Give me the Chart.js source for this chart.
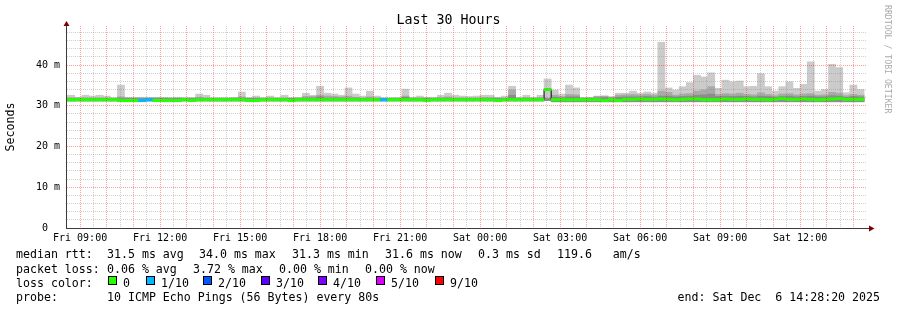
<!DOCTYPE html>
<html lang="en">
<head>
  <meta charset="UTF-8">
  <title>Last 30 Hours</title>
  <script src="https://cdn.jsdelivr.net/npm/chart.js@4"></script>
  <style>
    body { margin: 0; background: #fff; }
    #wrap {
      position: relative;
      width: 897px;
      height: 310px;
      font-family: "DejaVu Sans Mono", monospace;
      color: #000;
    }
    #chart { position: absolute; left: 0; top: 0; }
    #title {
      position: absolute; left: 0; top: 12px; width: 897px;
      text-align: center; font-size: 13.3px; line-height: 16px;
    }
    #credit {
      position: absolute; left: 883px; top: 5px;
      writing-mode: vertical-rl; font-size: 8.2px; line-height: 10px; color: #aaa;
    }
    .t { position: absolute; white-space: pre; font-size: 11.6px; line-height: 14px; }
    .box { position: absolute; top: 276px; width: 7px; height: 7px; border: 1px solid #000; }
  </style>
</head>
<body>
<div id="wrap">
  <canvas id="chart" width="897" height="310"></canvas>
  <div id="title">Last 30 Hours</div>
  <div id="credit">RRDTOOL / TOBI OETIKER</div>

  <div class="t" style="left:16px;top:247px">median rtt:</div>
  <div class="t" style="left:107px;top:247px">31.5 ms avg</div>
  <div class="t" style="left:199px;top:247px">34.0 ms max</div>
  <div class="t" style="left:292px;top:247px">31.3 ms min</div>
  <div class="t" style="left:385px;top:247px">31.6 ms now</div>
  <div class="t" style="left:478px;top:247px">0.3 ms sd</div>
  <div class="t" style="left:557px;top:247px">119.6   am/s</div>

  <div class="t" style="left:16px;top:261.5px">packet loss:</div>
  <div class="t" style="left:107px;top:261.5px">0.06 % avg</div>
  <div class="t" style="left:193px;top:261.5px">3.72 % max</div>
  <div class="t" style="left:279px;top:261.5px">0.00 % min</div>
  <div class="t" style="left:365px;top:261.5px">0.00 % now</div>

  <div class="t" style="left:16px;top:275.5px">loss color:</div>
  <div id="lossLegend"></div>

  <div class="t" style="left:16px;top:289.5px">probe:</div>
  <div class="t" style="left:107px;top:289.5px">10 ICMP Echo Pings (56 Bytes) every 80s</div>
  <div class="t" style="right:17px;top:289.5px">end: Sat Dec  6 14:28:20 2025</div>
</div>
<script>
  // time axis, minutes counted from Fri 00:00
  const START_MIN = 8 * 60 + 28 + 20 / 60;   // Fri 08:28:20
  const END_MIN = START_MIN + 30 * 60;       // Sat 14:28:20
  const BIN = 16;                             // rrd step (minutes)
  const FIRST_BIN = 31;                       // first 16-min bin on the graph

  const timeLabels = ['Fri 09:00', 'Fri 12:00', 'Fri 15:00', 'Fri 18:00', 'Fri 21:00',
                      'Sat 00:00', 'Sat 03:00', 'Sat 06:00', 'Sat 09:00', 'Sat 12:00'];
  const yLabels = ['0  ', '10 m', '20 m', '30 m', '40 m'];
  const yLabelValues = [0, 10, 20, 30, 40];

  // loss colours
  const lossLabels = ['0', '1/10', '2/10', '3/10', '4/10', '5/10', '9/10'];
  const lossColors = ['#26ff00', '#00b8ff', '#0059ff', '#5e00ff', '#7e00ff', '#dd00ff', '#ff0000'];

  // per 16-min bin (ms)
  const maxRtt = [
    32.6, 32.6, 32.1, 32.6, 32.4, 32.6, 32.4, 32.0, 35.1, 32.1,
    32.1, 32.1, 32.1, 32.1, 32.1, 32.0, 32.1, 32.0, 32.0, 32.9,
    32.6, 32.0, 32.0, 32.0, 32.1, 33.4, 32.0, 32.4, 32.0, 32.4,
    32.0, 32.6, 32.0, 32.1, 33.1, 32.6, 34.8, 33.1, 32.9, 32.6,
    34.4, 32.9, 32.4, 33.6, 32.4, 32.0, 32.0, 32.0, 34.1, 32.1,
    32.4, 32.1, 32.1, 32.6, 33.1, 32.6, 32.4, 32.3, 32.4, 32.6,
    32.6, 32.1, 32.4, 34.8, 32.1, 32.6, 32.1, 32.6, 36.6, 33.9,
    32.9, 35.1, 34.4, 32.1, 32.1, 32.4, 32.4, 32.1, 33.1, 33.1,
    33.6, 33.1, 33.4, 33.1, 45.6, 34.4, 33.9, 34.7, 35.7, 37.5,
    37.1, 38.1, 34.3, 36.3, 35.9, 36.1, 34.7, 34.8, 37.9, 34.7,
    33.6, 34.7, 35.9, 34.3, 35.3, 40.8, 33.6, 34.0, 40.2, 39.4,
    33.2, 35.1, 34.0
  ];
  const midRtt = [
    31.9, 31.9, 31.9, 31.9, 31.9, 31.9, 31.9, 31.9, 32.2, 31.9,
    31.9, 31.9, 31.9, 31.9, 31.9, 31.9, 31.9, 31.9, 31.9, 32.1,
    31.9, 31.9, 31.9, 31.9, 31.9, 32.2, 31.9, 31.9, 31.9, 31.9,
    31.9, 31.9, 31.9, 31.9, 32.3, 32.3, 32.6, 32.4, 32.3, 32.2,
    32.4, 32.1, 31.9, 32.2, 31.9, 31.9, 31.9, 31.9, 32.4, 31.9,
    31.9, 31.9, 31.9, 32.0, 32.2, 31.9, 31.9, 31.9, 31.9, 32.0,
    32.0, 31.9, 31.9, 33.9, 31.9, 32.0, 31.9, 32.0, 31.9, 32.6,
    32.3, 32.8, 32.7, 31.9, 32.0, 32.3, 32.4, 32.2, 32.6, 32.7,
    32.8, 32.7, 32.8, 32.6, 33.6, 33.3, 32.6, 32.9, 33.0, 33.6,
    33.9, 34.7, 32.8, 33.0, 32.9, 33.1, 32.8, 32.7, 33.2, 32.8,
    32.5, 32.9, 33.0, 32.7, 32.9, 33.0, 32.6, 32.7, 33.3, 33.1,
    32.5, 32.8, 32.6
  ];
  const innerRtt = [
    31.8, 31.8, 31.8, 31.8, 31.8, 31.8, 31.8, 31.8, 31.8, 31.8,
    31.8, 31.8, 31.8, 31.8, 31.8, 31.8, 31.8, 31.8, 31.8, 31.8,
    31.8, 31.8, 31.8, 31.8, 31.8, 31.8, 31.8, 31.8, 31.8, 31.8,
    31.8, 31.8, 31.8, 31.8, 31.8, 31.8, 32.2, 31.8, 31.8, 31.8,
    31.8, 31.8, 31.8, 31.8, 31.8, 31.8, 31.8, 31.8, 32.1, 31.8,
    31.8, 31.8, 31.8, 31.8, 31.8, 31.8, 31.8, 31.8, 31.8, 31.8,
    31.8, 31.8, 31.8, 32.6, 31.8, 31.8, 31.8, 31.8, 31.8, 32.1,
    31.9, 32.2, 32.2, 31.8, 31.8, 31.9, 32.0, 31.9, 32.1, 32.2,
    32.2, 32.2, 32.3, 32.1, 32.4, 32.4, 32.2, 32.3, 32.4, 32.6,
    32.7, 32.9, 32.3, 32.4, 32.3, 32.4, 32.3, 32.2, 32.4, 32.3,
    32.1, 32.3, 32.4, 32.2, 32.3, 32.4, 32.2, 32.2, 32.5, 32.4,
    32.1, 32.3, 32.2
  ];
  const minRtt = [
    31.2, 31.2, 31.2, 31.2, 31.2, 31.2, 31.2, 31.2, 31.2, 31.2,
    31.2, 31.2, 31.2, 31.2, 31.2, 31.2, 31.2, 31.2, 31.2, 31.2,
    31.2, 31.2, 31.2, 31.2, 31.2, 31.2, 31.2, 31.2, 31.2, 31.2,
    31.2, 31.2, 31.2, 31.2, 31.2, 31.2, 31.2, 31.2, 31.2, 31.2,
    31.2, 31.2, 31.2, 31.2, 31.2, 31.2, 31.2, 31.2, 31.2, 31.2,
    31.2, 31.2, 31.2, 31.2, 31.2, 31.2, 31.2, 31.2, 31.2, 31.2,
    31.2, 31.2, 31.2, 31.2, 31.2, 31.2, 31.2, 31.2, 31.3, 31.0,
    31.0, 31.0, 31.0, 31.0, 31.0, 31.0, 31.0, 31.0, 31.0, 31.0,
    31.0, 31.0, 31.0, 31.0, 31.0, 31.0, 31.0, 31.0, 31.0, 31.0,
    31.0, 31.0, 31.0, 31.0, 31.0, 31.0, 31.0, 31.0, 31.0, 31.0,
    31.0, 31.0, 31.0, 31.0, 31.0, 31.0, 31.0, 31.0, 31.0, 31.0,
    31.0, 31.0, 31.0
  ];
  const medRtt = [
    31.5, 31.5, 31.5, 31.5, 31.5, 31.5, 31.5, 31.5, 31.3, 31.3,
    31.3, 31.3, 31.5, 31.3, 31.3, 31.3, 31.3, 31.5, 31.3, 31.5,
    31.5, 31.5, 31.5, 31.5, 31.5, 31.5, 31.3, 31.3, 31.5, 31.5,
    31.5, 31.5, 31.3, 31.5, 31.5, 31.5, 31.5, 31.5, 31.5, 31.5,
    31.5, 31.5, 31.5, 31.5, 31.5, 31.5, 31.5, 31.5, 31.5, 31.5,
    31.5, 31.3, 31.5, 31.5, 31.5, 31.5, 31.5, 31.5, 31.5, 31.5,
    31.5, 31.3, 31.5, 31.5, 31.5, 31.5, 31.5, 31.5, 34.0, 31.5,
    31.5, 31.5, 31.5, 31.5, 31.5, 31.5, 31.3, 31.5, 31.3, 31.6,
    31.6, 31.7, 31.6, 31.6, 31.7, 31.6, 31.5, 31.6, 31.7, 31.7,
    31.5, 31.5, 31.5, 31.7, 31.6, 31.6, 31.7, 31.6, 31.6, 31.5,
    31.6, 31.8, 31.6, 31.6, 31.7, 31.6, 31.5, 31.6, 31.7, 31.8,
    31.6, 31.6, 31.6
  ];
  // index into lossColors (number of lost pings out of 10)
  const lossIdx = [
    0, 0, 0, 0, 0, 0, 0, 0, 0, 0,
    0, 1, 1, 0, 0, 0, 0, 0, 0, 0,
    0, 0, 0, 0, 0, 0, 0, 0, 0, 0,
    0, 0, 0, 0, 0, 0, 0, 0, 0, 0,
    0, 0, 0, 0, 0, 1, 0, 0, 0, 0,
    0, 0, 0, 0, 0, 0, 0, 0, 0, 0,
    0, 0, 0, 0, 0, 0, 0, 0, 0, 0,
    0, 0, 0, 0, 0, 0, 0, 0, 0, 0,
    0, 0, 0, 0, 0, 0, 0, 0, 0, 0,
    0, 0, 0, 0, 0, 0, 0, 0, 0, 0,
    0, 0, 0, 0, 0, 0, 0, 0, 0, 0,
    0, 0, 0
  ];

  const AXIS_COLOR = '#3a3a3a';
  const ARROW_COLOR = '#7f0000';
  const MAJOR_GRID = 'rgba(255, 0, 0, 0.38)';
  const MINOR_GRID = 'rgba(128, 128, 128, 0.38)';
  const BAND = 0.3;   // half height of the loss coloured median band (ms)

  // loss colour legend
  const boxLeft = [108, 146, 203, 261, 318, 376, 435];
  const legendEl = document.getElementById('lossLegend');
  lossLabels.forEach((lbl, i) => {
    const b = document.createElement('div');
    b.className = 'box';
    b.style.left = boxLeft[i] + 'px';
    b.style.background = lossColors[i];
    legendEl.appendChild(b);
    const t = document.createElement('div');
    t.className = 't';
    t.style.left = (boxLeft[i] + 15) + 'px';
    t.style.top = '275.5px';
    t.textContent = lbl;
    legendEl.appendChild(t);
  });

  // tick positions
  const labelAt = {};
  timeLabels.forEach(s => {
    const m = (s.startsWith('Sat') ? 1440 : 0) + Number(s.slice(4, 6)) * 60 + Number(s.slice(7, 9));
    labelAt[m] = s;
  });
  const xTicks = [];
  for (let m = Math.ceil(START_MIN / 30) * 30; m <= END_MIN; m += 30) xTicks.push(m);
  const yTicks = [];
  for (let v = 0; v <= 48; v += 2) yTicks.push(v);

  const binMid = i => (FIRST_BIN + i) * BIN + BIN / 2;
  const floatBars = (lo, hi) => lo.map((v, i) => ({ x: binMid(i), y: [v, hi[i]] }));

  const medianLine = medRtt.map((v, i) => ({ x: (FIRST_BIN + i) * BIN, y: v }));
  medianLine.push({ x: (FIRST_BIN + medRtt.length) * BIN, y: medRtt[medRtt.length - 1] });

  const barBase = { grouped: false, barPercentage: 1, categoryPercentage: 1, borderWidth: 0 };

  const axisArrows = {
    id: 'axisArrows',
    afterDraw(chart) {
      const { ctx, chartArea: a } = chart;
      const yb = a.bottom + 0.5, xl = a.left + 0.5;
      ctx.save();
      ctx.strokeStyle = AXIS_COLOR;
      ctx.lineWidth = 1;
      ctx.beginPath();
      ctx.moveTo(a.right, yb);
      ctx.lineTo(a.right + 3, yb);
      ctx.stroke();
      ctx.fillStyle = ARROW_COLOR;
      ctx.beginPath();
      ctx.moveTo(xl, a.top - 5);
      ctx.lineTo(xl + 3, a.top);
      ctx.lineTo(xl - 3, a.top);
      ctx.closePath();
      ctx.fill();
      ctx.beginPath();
      ctx.moveTo(a.right + 8.5, yb);
      ctx.lineTo(a.right + 3, yb - 3);
      ctx.lineTo(a.right + 3, yb + 3);
      ctx.closePath();
      ctx.fill();
      ctx.restore();
    }
  };

  Chart.defaults.font.family = '"DejaVu Sans Mono", monospace';
  Chart.defaults.color = '#000';

  new Chart(document.getElementById('chart'), {
    type: 'bar',
    data: {
      datasets: [
        Object.assign({}, barBase, {
          order: 0,
          data: medRtt.map((v, i) => ({ x: binMid(i), y: [v - BAND, v + BAND] })),
          backgroundColor: lossIdx.map(k => lossColors[k])
        }),
        {
          type: 'line',
          order: 1,
          data: medianLine,
          stepped: true,
          borderColor: '#000',
          borderWidth: 1,
          pointRadius: 0
        },
        Object.assign({}, barBase, { order: 2, data: floatBars(minRtt, innerRtt), backgroundColor: '#8c8c8c' }),
        Object.assign({}, barBase, { order: 3, data: floatBars(minRtt, midRtt), backgroundColor: '#a9a9a9' }),
        Object.assign({}, barBase, { order: 4, data: floatBars(minRtt, maxRtt), backgroundColor: '#cbcbcb' })
      ]
    },
    options: {
      responsive: false,
      animation: false,
      events: [],
      layout: { padding: { top: 26, right: 31, bottom: 62, left: 0 } },
      plugins: { legend: { display: false }, tooltip: { enabled: false } },
      scales: {
        x: {
          type: 'linear',
          min: START_MIN,
          max: END_MIN,
          offset: false,
          bounds: 'data',
          afterBuildTicks: axis => { axis.ticks = xTicks.map(value => ({ value })); },
          afterFit: axis => { axis.height = 20; },
          grid: {
            z: 1,
            offset: false,
            drawTicks: false,
            lineWidth: 1,
            color: c => (c.tick && c.tick.value % 60 === 0 ? MAJOR_GRID : MINOR_GRID)
          },
          border: { color: AXIS_COLOR, width: 1, dash: [1, 1], z: 2 },
          ticks: {
            autoSkip: false,
            maxRotation: 0,
            padding: 4,
            font: { size: 10 },
            callback: v => labelAt[v] || ''
          }
        },
        y: {
          min: 0,
          max: 49.6,
          bounds: 'data',
          afterBuildTicks: axis => { axis.ticks = yTicks.map(value => ({ value })); },
          afterFit: axis => { axis.width = 66; },
          grid: {
            z: 1,
            drawTicks: false,
            lineWidth: 1,
            color: c => (c.tick && c.tick.value % 10 === 0 ? MAJOR_GRID : MINOR_GRID)
          },
          border: { color: AXIS_COLOR, width: 1, dash: [1, 1], z: 2 },
          ticks: {
            autoSkip: false,
            padding: 6,
            font: { size: 10 },
            callback: v => {
              const k = yLabelValues.indexOf(v);
              return k >= 0 ? yLabels[k] : '';
            }
          },
          title: { display: true, text: 'Seconds', font: { size: 11.6 }, padding: { top: 4, bottom: 4 } }
        }
      }
    },
    plugins: [axisArrows]
  });
</script>
</body>
</html>
